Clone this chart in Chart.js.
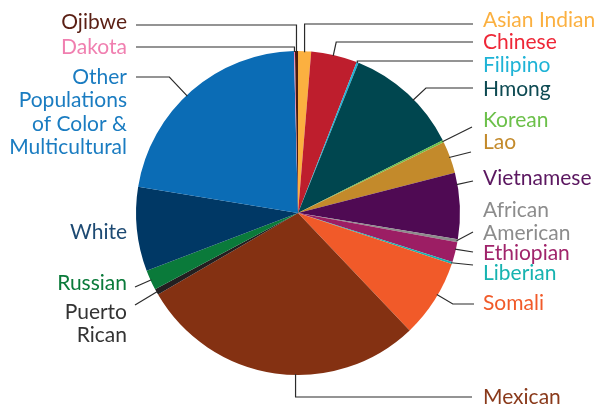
<!DOCTYPE html>
<html>
<head>
<meta charset="utf-8">
<script src="https://cdn.jsdelivr.net/npm/chart.js@4.4.0/dist/chart.umd.min.js"></script>
<style>
  html, body { margin: 0; padding: 0; background: #fff; }
  #wrap { width: 599px; height: 407px; }
</style>
</head>
<body>
<div id="wrap"><canvas id="pie" width="599" height="407"></canvas></div>
<script>
// Share of population (%) by community, clockwise from 12 o'clock
const CATEGORIES = [
  "Asian Indian", "Chinese", "Filipino", "Hmong", "Korean", "Lao", "Vietnamese",
  "African American", "Ethiopian", "Liberian", "Somali", "Mexican", "Puerto Rican",
  "Russian", "White", "Other Populations of Color & Multicultural", "Dakota", "Ojibwe"
];
const SHARES = [1.3, 4.6, 0.2, 11.5, 0.2, 3.2, 6.6, 0.3, 2.0, 0.2, 7.8, 28.7, 0.6, 2.0, 8.4, 22.0, 0.1, 0.3];
const SLICE_COLORS = [
  "#fbb040", "#be1e2d", "#1fb3d6", "#00464f", "#6cc04a", "#c38a2b", "#4f0a53",
  "#8c8c8c", "#9c1e64", "#17b3b0", "#f15a29", "#843112", "#231f20",
  "#0a7a3a", "#003865", "#0b6cb5", "#f07fb0", "#4a1a10"
];
const LABEL_COLORS = [
  "#fbb040", "#ee2737", "#1fb3d6", "#0d4a52", "#6cc04a", "#c38a2b", "#5b1760",
  "#8c8c8c", "#a0246b", "#17b3b0", "#f15a29", "#8a3a1b", "#333333",
  "#0a7a3a", "#1d4a73", "#1a7cc1", "#f07fb0", "#5a1f14"
];

// label text placement and leader routing (index into CATEGORIES)
const RIGHT_X = 483, LEFT_X = 127, LH = 23.5;
const LABELS = [
  { i: 0,  lines: ["Asian Indian"], side: "r", ty: 20,  end: 473, ey: 24, elbow: 0 },
  { i: 1,  lines: ["Chinese"],      side: "r", ty: 42,  end: 473, ey: 42, elbow: 3, at: 0.48 },
  { i: 2,  lines: ["Filipino"],     side: "r", ty: 65,  end: 473, ey: 61, elbow: 0 },
  { i: 3,  lines: ["Hmong"],        side: "r", ty: 89,  end: 473, ey: 88, elbow: 13, at: 0.57 },
  { i: 4,  lines: ["Korean"],       side: "r", ty: 120, end: 472, ey: 127 },
  { i: 5,  lines: ["Lao"],          side: "r", ty: 142, end: 471, ey: 152 },
  { i: 6,  lines: ["Vietnamese"],   side: "r", ty: 178, end: 473, ey: 181, at: 0.18 },
  { i: 7,  lines: ["African", "American"], side: "r", ty: 210, end: 473, ey: 232 },
  { i: 8,  lines: ["Ethiopian"],    side: "r", ty: 253, end: 473, ey: 252, at: 0.35 },
  { i: 9,  lines: ["Liberian"],     side: "r", ty: 273, end: 473, ey: 265 },
  { i: 10, lines: ["Somali"],       side: "r", ty: 303, end: 474, ey: 304, elbow: 16, at: 0.43 },
  { i: 11, lines: ["Mexican"],      side: "r", ty: 397, end: 472, ey: 397, elbow: 0, at: 0.43 },
  { i: 12, lines: ["Puerto", "Rican"], side: "l", ty: 312, end: 135, ey: 305 },
  { i: 13, lines: ["Russian"],      side: "l", ty: 283, end: 135, ey: 287 },
  { i: 14, lines: ["White"],        side: "l", ty: 232 },
  { i: 15, lines: ["Other", "Populations", "of Color &", "Multicultural"], side: "l", ty: 77, end: 136, ey: 77, elbow: -18, at: 0.47 },
  { i: 16, lines: ["Dakota"],       side: "l", ty: 47,  end: 136, ey: 47, elbow: 0 },
  { i: 17, lines: ["Ojibwe"],       side: "l", ty: 22,  end: 136, ey: 25, elbow: 0 }
];

const labelPlugin = {
  id: "leaderLabels",
  afterDraw(chart) {
    const ctx = chart.ctx;
    const arcs = chart.getDatasetMeta(0).data;
    ctx.save();
    ctx.font = "400 21px Lato, 'Open Sans', sans-serif";
    ctx.textBaseline = "middle";
    LABELS.forEach(l => {
      const arc = arcs[l.i];
      // leader line
      if (l.end !== undefined) {
        const f = l.at === undefined ? 0.5 : l.at;
        const a = arc.startAngle + (arc.endAngle - arc.startAngle) * f;
        const r = arc.outerRadius - 1;
        const px = arc.x + Math.cos(a) * r, py = arc.y + Math.sin(a) * r;
        ctx.beginPath();
        ctx.moveTo(px, py);
        if (l.elbow !== undefined) ctx.lineTo(px + l.elbow, l.ey);
        ctx.lineTo(l.end, l.ey);
        ctx.strokeStyle = "#2b2b2b";
        ctx.lineWidth = 1.2;
        ctx.stroke();
      }
      // label text
      ctx.fillStyle = LABEL_COLORS[l.i];
      ctx.textAlign = l.side === "r" ? "left" : "right";
      const x = l.side === "r" ? RIGHT_X : LEFT_X;
      l.lines.forEach((t, k) => ctx.fillText(t, x, l.ty + k * LH));
    });
    ctx.restore();
  }
};

new Chart(document.getElementById("pie"), {
  type: "pie",
  data: {
    labels: CATEGORIES,
    datasets: [{
      data: SHARES,
      backgroundColor: SLICE_COLORS,
      borderWidth: 0
    }]
  },
  options: {
    responsive: false,
    animation: false,
    layout: { padding: { left: 136, right: 139, top: 51, bottom: 32 } },
    plugins: {
      legend: { display: false },
      tooltip: { enabled: false }
    }
  },
  plugins: [labelPlugin]
});
</script>
</body>
</html>
